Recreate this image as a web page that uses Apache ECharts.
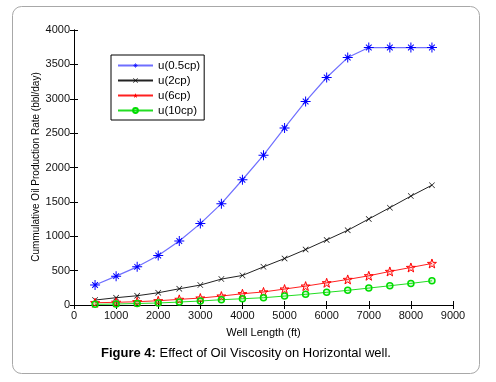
<!DOCTYPE html>
<html>
<head>
<meta charset="utf-8">
<script src="https://cdn.jsdelivr.net/npm/echarts@6/dist/echarts.min.js"></script>
<style>
  html, body { margin: 0; padding: 0; background: #fff; }
  #chart { width: 496px; height: 382px; }
</style>
</head>
<body>
<div id="chart"></div>
<script>
// well length (ft)
const wellLength = [500, 1000, 1500, 2000, 2500, 3000, 3500, 4000, 4500, 5000, 5500, 6000, 6500, 7000, 7500, 8000, 8500];
// cumulative oil production rate (bbl/day) per viscosity
const u05 = [290, 420, 555, 720, 932, 1184, 1474, 1822, 2180, 2575, 2961, 3309, 3599, 3745, 3745, 3745, 3745];
const u2 = [72, 106, 135, 178, 236, 290, 377, 430, 555, 676, 807, 946, 1087, 1251, 1416, 1584, 1743];
const u6 = [33, 39, 48, 62, 82, 101, 130, 164, 190, 232, 275, 323, 372, 425, 488, 546, 604];
const u10 = [10, 14, 22, 29, 43, 58, 77, 91, 106, 130, 155, 184, 213, 246, 280, 314, 352];
const seriesNames = ['u(0.5cp)', 'u(2cp)', 'u(6cp)', 'u(10cp)'];

const asterisk = 'path://M9,0L11,0L11,20L9,20ZM0,9L20,9L20,11L0,11ZM3.6,5L5,3.6L16.4,15L15,16.4ZM15,3.6L16.4,5L5,16.4L3.6,15Z';
const cross = 'path://M1.4,0L10,8.6L18.6,0L20,1.4L11.4,10L20,18.6L18.6,20L10,11.4L1.4,20L0,18.6L8.6,10L0,1.4Z';
const star = 'path://M10,0L12.35,6.76L19.51,6.91L13.8,11.24L15.88,18.09L10,14L4.12,18.09L6.2,11.24L0.49,6.91L7.65,6.76Z';

const pairs = (ys) => wellLength.map((x, i) => [x, ys[i]]);
const plain = (v) => String(v);

const myChart = echarts.init(document.getElementById('chart'));

const tickFont = { fontFamily: 'Liberation Sans, Arial', fontSize: 11, color: '#111' };

const option = {
  animation: false,
  backgroundColor: '#fff',
  grid: { left: 74, right: 43, top: 30, bottom: 77 },
  legend: {
    orient: 'vertical',
    left: 111,
    top: 55,
    padding: [4, 4, 3, 6],
    itemGap: 2,
    itemWidth: 35,
    itemHeight: 6,
    borderColor: '#000',
    borderWidth: 1,
    borderRadius: 0,
    backgroundColor: '#fff',
    textStyle: { fontFamily: 'Liberation Sans, Arial', fontSize: 11.5, color: '#000', lineHeight: 13 },
    data: [
      seriesNames[0],
      seriesNames[1],
      { name: seriesNames[2], itemStyle: { color: '#ff0000', borderWidth: 0 } },
      seriesNames[3],
    ],
  },
  xAxis: [{
    type: 'value', min: 0, max: 9000, interval: 1000,
    axisLine: { show: true, lineStyle: { color: '#000' } },
    axisTick: { inside: true, length: 4, lineStyle: { color: '#000' } },
    axisLabel: Object.assign({ margin: 5, formatter: plain }, tickFont),
    splitLine: { show: false },
    name: 'Well Length (ft)', nameLocation: 'middle', nameGap: 22,
    nameTextStyle: { fontFamily: 'Liberation Sans, Arial', fontSize: 11, color: '#000' },
  }, {
    type: 'value', min: 0, max: 9000, interval: 1000, position: 'top',
    axisLine: { show: true, lineStyle: { color: '#000' } },
    axisTick: { inside: true, length: 4, lineStyle: { color: '#000' } },
    axisLabel: { show: false }, splitLine: { show: false },
  }],
  yAxis: [{
    type: 'value', min: 0, max: 4000, interval: 500,
    axisLine: { show: true, lineStyle: { color: '#000' } },
    axisTick: { inside: true, length: 4, lineStyle: { color: '#000' } },
    axisLabel: Object.assign({ margin: 4, formatter: plain }, tickFont),
    splitLine: { show: false },
  }, {
    type: 'value', min: 0, max: 4000, interval: 500, position: 'right',
    axisLine: { show: true, lineStyle: { color: '#000' } },
    axisTick: { inside: true, length: 4, lineStyle: { color: '#000' } },
    axisLabel: { show: false }, splitLine: { show: false },
  }],
  series: [
    {
      name: seriesNames[0], type: 'line', data: pairs(u05),
      symbol: asterisk, symbolSize: 10,
      itemStyle: { color: '#0000ff' },
      lineStyle: { color: '#6f6fff', width: 1.2 },
    },
    {
      name: seriesNames[1], type: 'line', data: pairs(u2),
      symbol: cross, symbolSize: 6,
      itemStyle: { color: '#000' },
      lineStyle: { color: '#222', width: 1 },
    },
    {
      name: seriesNames[2], type: 'line', data: pairs(u6),
      symbol: star, symbolSize: 9,
      itemStyle: { color: 'rgba(255,0,0,0.15)', borderColor: '#ff0000', borderWidth: 1 },
      lineStyle: { color: '#ff2020', width: 1 },
    },
    {
      name: seriesNames[3], type: 'line', data: pairs(u10),
      symbol: 'circle', symbolSize: 6,
      itemStyle: { color: 'rgba(0,220,0,0.15)', borderColor: '#00dd00', borderWidth: 1.5 },
      lineStyle: { color: '#22dd22', width: 1 },
    },
  ],
  graphic: [
    {
      type: 'rect', silent: true, z: -10,
      shape: { x: 12.5, y: 6.5, width: 467, height: 367, r: 9 },
      style: { fill: 'none', stroke: '#a8a8a8', lineWidth: 1 },
    },
    {
      type: 'text', x: 36, y: 167, rotation: Math.PI / 2,
      style: {
        text: 'Cummulative Oil Production Rate (bbl/day)',
        fontFamily: 'Liberation Sans, Arial', fontSize: 10, fill: '#000',
        align: 'center', verticalAlign: 'middle',
      },
    },
    {
      type: 'text', x: 246, y: 353,
      style: {
        text: '{b|Figure 4:} Effect of Oil Viscosity on Horizontal well.',
        fontFamily: 'Liberation Sans, Arial', fontSize: 13, fill: '#000',
        align: 'center', verticalAlign: 'middle',
        rich: { b: { fontWeight: 'bold', fontFamily: 'Liberation Sans, Arial', fontSize: 13 } },
      },
    },
  ],
};

myChart.setOption(option);
</script>
</body>
</html>
